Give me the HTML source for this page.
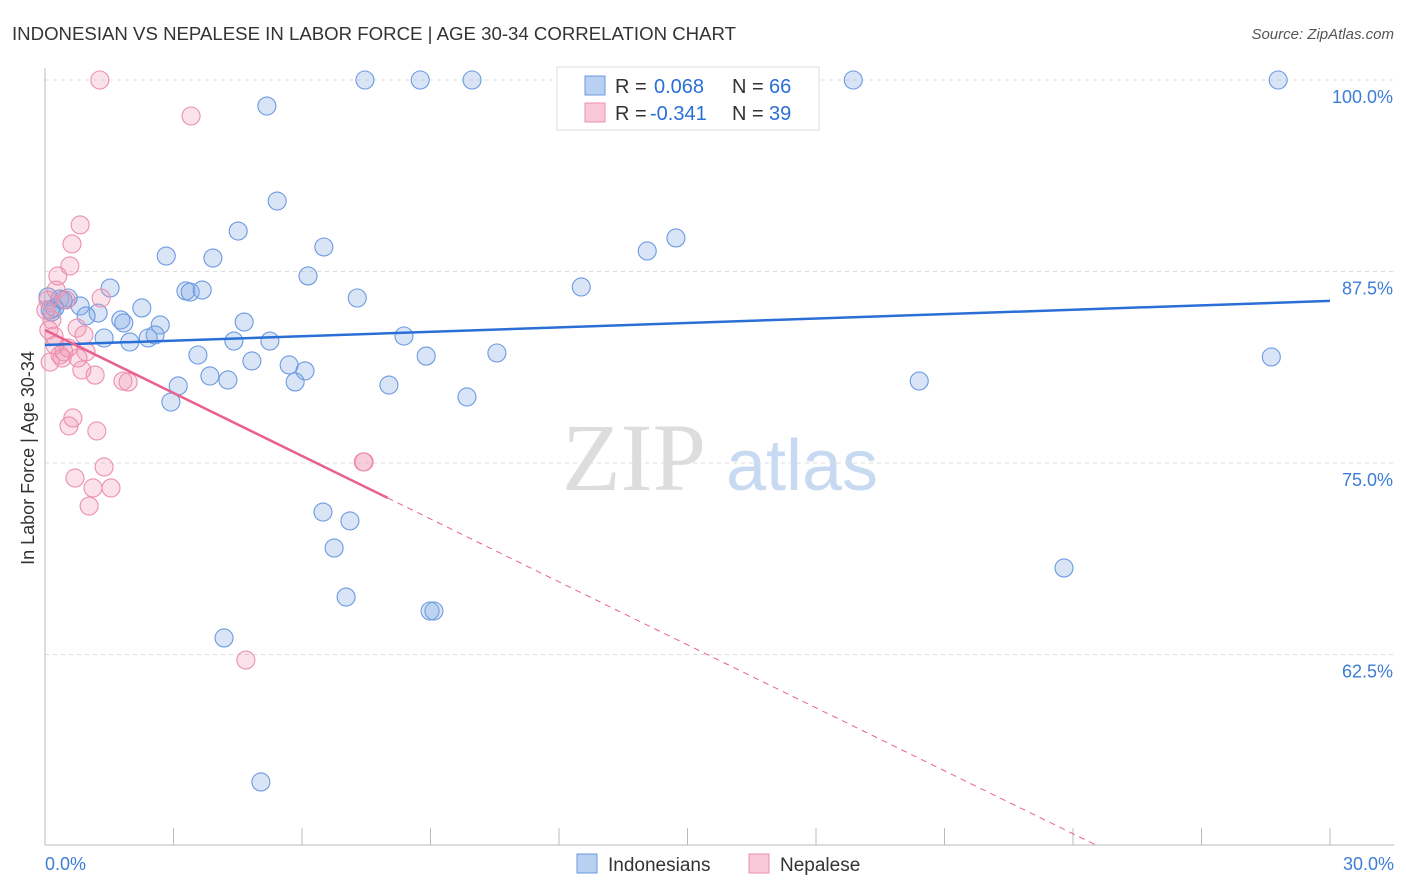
<!DOCTYPE html>
<html><head><meta charset="utf-8"><style>
body{margin:0;background:#fff;font-family:"Liberation Sans",sans-serif}
svg{display:block}
</style></head><body>
<svg id="c" width="1406" height="892" xmlns="http://www.w3.org/2000/svg">
<text x="12" y="40" font-size="18" fill="#333" textLength="724" lengthAdjust="spacingAndGlyphs">INDONESIAN VS NEPALESE IN LABOR FORCE | AGE 30-34 CORRELATION CHART</text>
<text x="1394" y="39" font-size="15" fill="#555" text-anchor="end" font-style="italic">Source: ZipAtlas.com</text>
<text x="34" y="458" font-size="18" fill="#333" text-anchor="middle" transform="rotate(-90 34 458)">In Labor Force | Age 30-34</text>
<g><text x="634" y="490" font-size="96" fill="#ddd" text-anchor="middle" font-family="Liberation Serif,serif">ZIP</text><text x="802" y="490" font-size="72" fill="#c8daf2" text-anchor="middle">atlas</text></g>
<g id="grid"></g><g id="axes"></g><g id="pts"></g><g id="lines"></g>
<g>
<rect x="557" y="67" width="262" height="63" fill="#fff" stroke="#ddd"/>
<rect x="585" y="76" width="20" height="19" fill="#b8d0f2" stroke="#6b9ae0"/>
<text x="615" y="93" font-size="20" fill="#333">R =</text><text x="654" y="93" font-size="20" fill="#2a6fd6">0.068</text>
<text x="732" y="93" font-size="20" fill="#333">N =</text><text x="769" y="93" font-size="20" fill="#2a6fd6">66</text>
<rect x="585" y="103" width="20" height="19" fill="#f8c8d8" stroke="#ec8fae"/>
<text x="615" y="120" font-size="20" fill="#333">R =</text><text x="650" y="120" font-size="20" fill="#2a6fd6">-0.341</text>
<text x="732" y="120" font-size="20" fill="#333">N =</text><text x="769" y="120" font-size="20" fill="#2a6fd6">39</text>
</g>
<g>
<rect x="577" y="854" width="20" height="19" fill="#b8d0f2" stroke="#6b9ae0"/>
<text x="608" y="871" font-size="19" fill="#333">Indonesians</text>
<rect x="749" y="854" width="20" height="19" fill="#f8c8d8" stroke="#ec8fae"/>
<text x="780" y="871" font-size="19" fill="#333">Nepalese</text>
</g>
</svg>
<script>
const yTicks=[100,87.5,75,62.5];
const xTickLabels=["0.0%","30.0%"];
const blueX=[7.47,8.76,9.97,18.87,28.79,5.18,5.42,4.51,2.83,3.92,6.51,14.06,14.73,6.14,12.52,3.29,3.39,3.67,1.52,7.29,0.07,0.35,0.54,0.82,1.24,0.96,0.23,0.16,2.26,1.77,1.84,2.69,4.65,1.98,1.38,2.41,2.57,4.41,5.25,8.38,3.57,8.90,10.55,4.83,5.70,6.07,3.85,4.27,3.11,5.84,8.03,20.41,28.63,2.94,9.85,6.49,7.12,6.75,23.79,7.03,8.99,9.08,4.18,5.04,0.42,0.12];
const blueY=[100,100,100,100,100,98.30,92.10,90.14,88.51,88.38,89.10,88.84,89.69,87.21,86.49,86.23,86.16,86.29,86.42,85.77,85.84,85.71,85.77,85.25,84.79,84.60,85.12,84.86,85.12,84.34,84.14,84.01,84.20,82.90,83.16,83.16,83.36,82.96,82.96,83.29,82.05,81.98,82.18,81.66,81.40,81.01,80.68,80.42,80.03,80.29,80.09,80.35,81.92,78.98,79.31,71.80,71.22,69.45,68.15,66.25,65.34,65.34,63.58,54.18,85.64,84.99];
const pinkX=[1.28,3.41,0.82,0.63,0.58,0.30,1.31,0.07,0.16,0.09,0.75,0.91,0.21,0.35,0.44,0.54,0.12,0.96,0.77,0.86,1.17,1.82,1.94,0.65,0.56,1.21,1.38,0.70,1.12,1.54,1.03,7.43,7.45,4.69,0.23,0.40,0.02,0.26,0.49];
const pinkY=[100,97.65,90.54,89.30,87.86,87.21,85.77,85.64,84.34,83.68,83.81,83.36,83.29,82.05,82.25,82.51,81.59,82.25,81.85,81.07,80.74,80.35,80.29,77.94,77.42,77.09,74.74,74.02,73.37,73.37,72.19,75.07,75.07,62.14,82.70,81.85,84.99,86.29,85.64];
const blueTrend=[82.70,85.58];
const pinkTrend=[83.68,-1.37];
const X=v=>45+v/30*1285, Y=v=>80+(100-v)/12.5*191.5;
const NS="http://www.w3.org/2000/svg";
function mk(t,a,p){const e=document.createElementNS(NS,t);for(const k in a)e.setAttribute(k,a[k]);document.getElementById(p).appendChild(e);return e;}
yTicks.forEach(t=>{
 const l=mk('line',{x1:45,x2:1394,y1:Y(t),y2:Y(t),stroke:'#ddd','stroke-dasharray':'4 4'},'grid');
 
 
 const tx=mk('text',{x:1393,y:Y(t)+23,'font-size':18,fill:'#3d7dd8','text-anchor':'end'},'grid');
 tx.textContent=t.toFixed(1)+'%';
 
 
});
mk('line',{x1:45,x2:45,y1:68,y2:845,stroke:'#bbb'},'axes');
mk('line',{x1:45,x2:1394,y1:845,y2:845,stroke:'#bbb'},'axes');
for(let i=1;i<=10;i++){const t=mk('line',{x1:X(i*3),x2:X(i*3),y1:828,y2:845,stroke:'#bbb'},'axes');
 
 }
[[0,'start',45],[30,'end',1394]].forEach((d,i)=>{const t=mk('text',{x:d[2],y:870,'font-size':18,fill:'#3d7dd8','text-anchor':d[1]},'axes');t.textContent=xTickLabels[i];
 
 });
blueX.forEach((x,i)=>{const c=mk('circle',{cx:X(x),cy:Y(blueY[i]),r:9,fill:'rgba(130,170,230,0.3)',stroke:'#6b9ae0','stroke-width':1.1},'pts');
 
 });
pinkX.forEach((x,i)=>{const c=mk('circle',{cx:X(x),cy:Y(pinkY[i]),r:9,fill:'rgba(240,150,180,0.28)',stroke:'#ec8fae','stroke-width':1.1},'pts');
 
 });
const bl=mk('line',{x1:X(0),y1:Y(blueTrend[0]),x2:X(30),y2:Y(blueTrend[1]),stroke:'#2a6fd6','stroke-width':2.5},'lines');


const pe=8.0, pd=24.6;
const pl=mk('line',{x1:X(0),y1:Y(pinkTrend[0]),x2:X(pe),y2:Y(pinkTrend[0]+pinkTrend[1]*pe),stroke:'#e8618f','stroke-width':2.5},'lines');


const pd2=mk('line',{x1:X(pe),y1:Y(pinkTrend[0]+pinkTrend[1]*pe),x2:X(pd),y2:Y(pinkTrend[0]+pinkTrend[1]*pd),stroke:'#e8618f','stroke-width':1,'stroke-dasharray':'6 5'},'lines');


</script>
</body></html>
